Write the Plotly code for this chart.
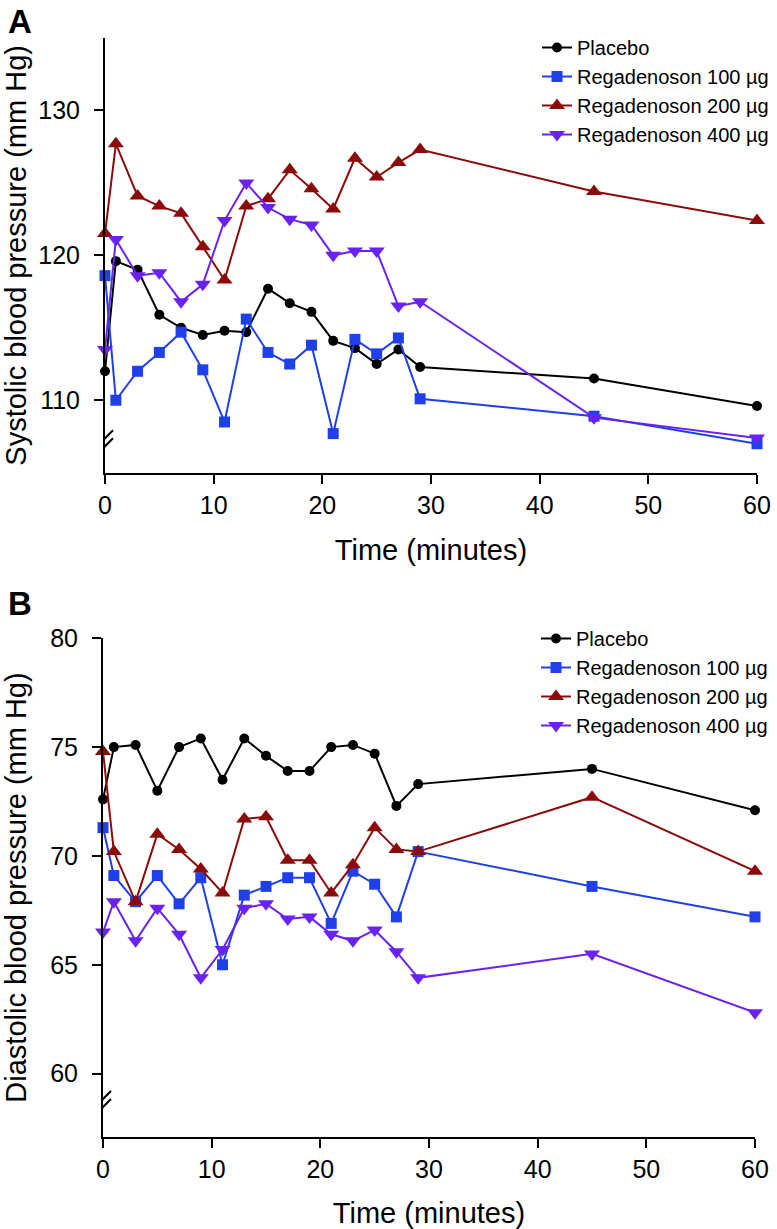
import plotly.graph_objects as go

# ---------------- data ----------------
time_min = [0, 1, 3, 5, 7, 9, 11, 13, 15, 17, 19, 21, 23, 25, 27, 29, 45, 60]

series_names = ["Placebo", "Regadenoson 100 µg", "Regadenoson 200 µg", "Regadenoson 400 µg"]

sbp_placebo = [112.0, 119.6, 119.0, 115.9, 115.0, 114.5, 114.8, 114.7, 117.7, 116.7, 116.1, 114.1, 113.6, 112.5, 113.5, 112.3, 111.5, 109.6]
sbp_100 = [118.6, 110.0, 112.0, 113.3, 114.7, 112.1, 108.5, 115.6, 113.3, 112.5, 113.8, 107.7, 114.2, 113.2, 114.3, 110.1, 108.9, 107.0]
sbp_200 = [121.5, 127.7, 124.1, 123.4, 122.9, 120.6, 118.3, 123.4, 123.9, 125.9, 124.6, 123.2, 126.7, 125.4, 126.4, 127.3, 124.4, 122.4]
sbp_400 = [113.5, 121.1, 118.6, 118.8, 116.8, 118.0, 122.4, 125.0, 123.3, 122.5, 122.1, 120.0, 120.3, 120.3, 116.5, 116.8, 108.8, 107.4]

dbp_placebo = [72.6, 75.0, 75.1, 73.0, 75.0, 75.4, 73.5, 75.4, 74.6, 73.9, 73.9, 75.0, 75.1, 74.7, 72.3, 73.3, 74.0, 72.1]
dbp_100 = [71.3, 69.1, 67.9, 69.1, 67.8, 69.0, 65.0, 68.2, 68.6, 69.0, 69.0, 66.9, 69.3, 68.7, 67.2, 70.2, 68.6, 67.2]
dbp_200 = [74.8, 70.2, 67.9, 71.0, 70.3, 69.4, 68.3, 71.7, 71.8, 69.8, 69.8, 68.3, 69.6, 71.3, 70.3, 70.2, 72.7, 69.3]
dbp_400 = [66.5, 67.9, 66.1, 67.6, 66.4, 64.4, 65.7, 67.6, 67.8, 67.1, 67.2, 66.4, 66.1, 66.6, 65.6, 64.4, 65.5, 62.8]

x_ticks = [0, 10, 20, 30, 40, 50, 60]
sbp_ticks = [110, 120, 130]
dbp_ticks = [60, 65, 70, 75, 80]

# ---------------- style ----------------
W, H = 777, 1229
FONT = "Liberation Sans, Arial, sans-serif"
colors = ["#000000", "#1f3fe8", "#8c0a0a", "#6a22f2"]
symbols = ["circle", "square", "triangle-up", "triangle-down"]
msizes = [10, 11, 14, 14]


def px(xp):
    return xp / W


def py(yp):
    return 1 - yp / H


A_x = (px(105), px(757))
A_y = (py(472.7), py(38))
B_x = (px(103), px(755))
B_y = (py(1136.7), py(638.3))

fig = go.Figure()

sbp_all = [sbp_placebo, sbp_100, sbp_200, sbp_400]
dbp_all = [dbp_placebo, dbp_100, dbp_200, dbp_400]

for i in range(4):
    fig.add_trace(go.Scatter(
        x=time_min, y=sbp_all[i], name=series_names[i], mode="lines+markers",
        line=dict(color=colors[i], width=2),
        marker=dict(symbol=symbols[i], size=msizes[i], color=colors[i]),
        cliponaxis=False, xaxis="x", yaxis="y", legend="legend"))
for i in range(4):
    fig.add_trace(go.Scatter(
        x=time_min, y=dbp_all[i], name=series_names[i], mode="lines+markers",
        line=dict(color=colors[i], width=2),
        marker=dict(symbol=symbols[i], size=msizes[i], color=colors[i]),
        cliponaxis=False, xaxis="x2", yaxis="y2", legend="legend2"))

axis_common = dict(showline=True, linecolor="black", linewidth=2, ticks="outside",
                   ticklen=9, tickwidth=2, tickcolor="black", showgrid=False,
                   zeroline=False, automargin=False,
                   tickfont=dict(family=FONT, size=25, color="black"))

fig.update_layout(
    width=W, height=H, margin=dict(l=0, r=0, t=0, b=0, autoexpand=False),
    paper_bgcolor="white", plot_bgcolor="white",
    font=dict(family=FONT, color="black"),
    xaxis=dict(domain=A_x, range=[0, 60], tickvals=x_ticks, anchor="y",
               title=dict(text="Time (minutes)", font=dict(size=29), standoff=22),
               ticklabelstandoff=0, **axis_common),
    yaxis=dict(domain=A_y, range=[105, 135], tickvals=sbp_ticks, anchor="x",
               title=dict(text="Systolic blood pressure (mm Hg)", font=dict(size=29), standoff=16),
               ticklabelstandoff=9, **axis_common),
    xaxis2=dict(domain=B_x, range=[0, 60], tickvals=x_ticks, anchor="y2",
                title=dict(text="Time (minutes)", font=dict(size=29), standoff=22),
                ticklabelstandoff=0, **axis_common),
    yaxis2=dict(domain=B_y, range=[57.1, 80], tickvals=dbp_ticks, anchor="x2",
                title=dict(text="Diastolic blood pressure (mm Hg)", font=dict(size=29), standoff=30),
                ticklabelstandoff=9, **axis_common),
    legend=dict(x=px(537), y=py(28), xanchor="left", yanchor="top",
                font=dict(family=FONT, size=20, color="black"), bgcolor="rgba(0,0,0,0)"),
    legend2=dict(x=px(536), y=py(619), xanchor="left", yanchor="top",
                 font=dict(family=FONT, size=20, color="black"), bgcolor="rgba(0,0,0,0)"),
)


# axis breaks
def add_break(xref, yref, ycenter):
    fig.add_shape(type="rect", xref=xref, yref=yref, xsizemode="pixel", ysizemode="pixel",
                  xanchor=0, yanchor=ycenter, x0=-3, x1=3, y0=-4, y1=4,
                  fillcolor="white", line=dict(width=0), layer="above")
    for off in (4, -4):
        fig.add_shape(type="line", xref=xref, yref=yref, xsizemode="pixel", ysizemode="pixel",
                      xanchor=0, yanchor=ycenter, x0=-8, x1=8, y0=off - 8, y1=off + 8,
                      line=dict(color="black", width=2), layer="above")


add_break("x", "y", 107.1)
add_break("x2", "y2", 58.65)

# small left extension of the lower x axis line in panel B
fig.add_shape(type="line", xref="x2", yref="y2", xsizemode="pixel", xanchor=0,
              x0=-10, x1=0, y0=57.1, y1=57.1, line=dict(color="black", width=2))

# panel letters
fig.add_annotation(text="<b>A</b>", x=px(20), y=py(21), xref="paper", yref="paper",
                   xanchor="center", yanchor="middle", showarrow=False,
                   font=dict(family=FONT, size=33, color="black"))
fig.add_annotation(text="<b>B</b>", x=px(20), y=py(603.5), xref="paper", yref="paper",
                   xanchor="center", yanchor="middle", showarrow=False,
                   font=dict(family=FONT, size=33, color="black"))

fig.write_html("out.html", config={"displayModeBar": False},
               post_script="document.body.style.margin='0';")
